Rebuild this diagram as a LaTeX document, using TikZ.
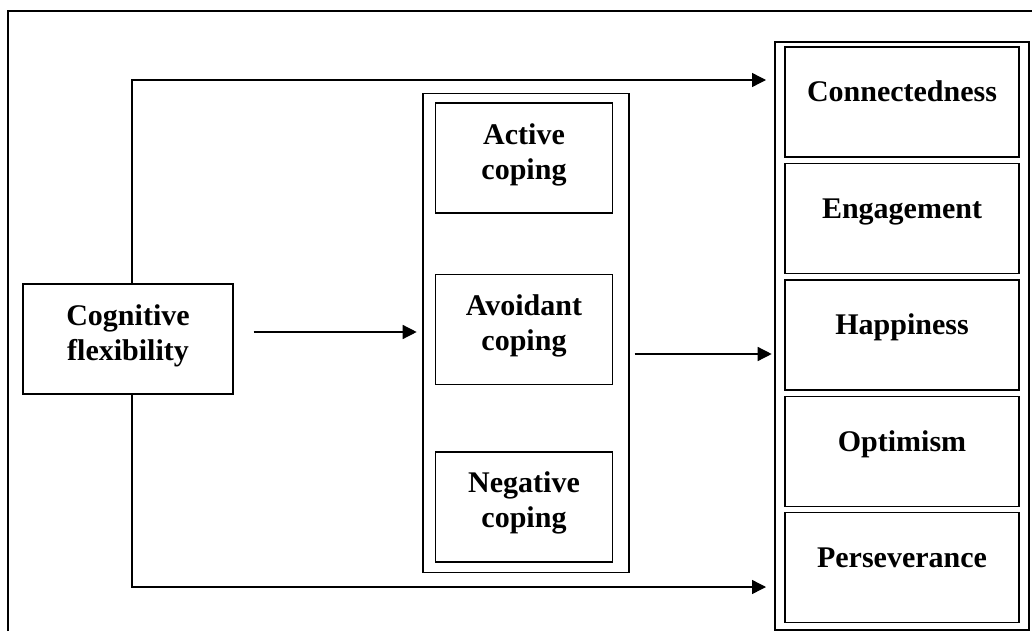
\documentclass[tikz,border=0pt]{standalone}
\usepackage{fontspec}
\setmainfont{Liberation Serif}
\usetikzlibrary{arrows.meta,positioning}

\begin{document}
\begin{tikzpicture}[
  x=1pt, y=-1pt,
  node distance=5pt,
  line width=1.4pt,
  box/.style={draw, align=center, minimum width=234pt, minimum height=110pt, font=\fontsize{30}{35}\selectfont\bfseries, text height=20pt, text depth=20pt},
  twoline/.style={box, text height=62pt},
  copebox/.style={twoline, minimum width=177pt},
  holder/.style={draw, inner sep=0pt},
  >={Triangle[length=14pt, width=14pt]}
]
\useasboundingbox (0,0) rectangle (1032,631);
\draw[line width=1.2pt] (8,631) |- (1032,11);

\node[twoline, minimum width=210pt] (cog) at (128,339) {Cognitive\\flexibility};

\node[holder, minimum width=206pt, minimum height=479pt] (copeset) at (526,333) {};
\node[copebox] (act) at (524,158) {Active\\coping};
\node[copebox, below=60pt of act] (avo) {Avoidant\\coping};
\node[copebox, below=66pt of avo] (neg) {Negative\\coping};

\node[holder, minimum width=254pt, minimum height=588pt] (outset) at (902,336) {};
\node[box] (conn) at (902,102) {Connectedness};
\node[box, below=of conn] (eng) {Engagement};
\node[box, below=of eng] (hap) {Happiness};
\node[box, below=of hap] (opt) {Optimism};
\node[box, below=of opt] (per) {Perseverance};

\coordinate (topend) at (766,80);
\coordinate (botend) at (766,587);
\draw[->] ([xshift=4pt]cog.north) |- (topend);
\draw[->] ([xshift=4pt]cog.south) |- (botend);
\draw[->] ([shift={(20pt,7pt)}]cog.east) -- ++(163,0);
\draw[->] ([shift={(5pt,-21pt)}]copeset.east) -- ++(137,0);
\end{tikzpicture}
\end{document}
